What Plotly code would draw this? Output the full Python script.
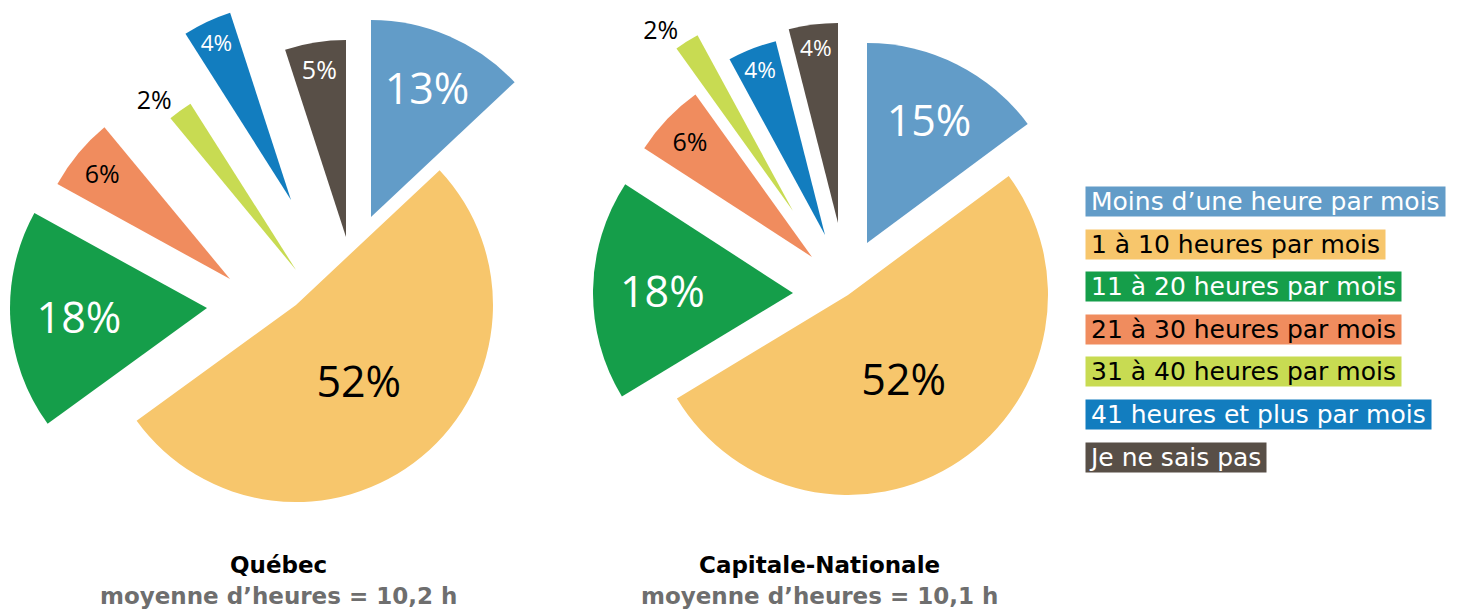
import plotly.graph_objects as go

# ---------------- data ----------------
categories = [
    "Moins d’une heure par mois",
    "1 à 10 heures par mois",
    "11 à 20 heures par mois",
    "21 à 30 heures par mois",
    "31 à 40 heures par mois",
    "41 heures et plus par mois",
    "Je ne sais pas",
]
quebec_values = [13, 52, 18, 6, 2, 4, 5]
capitale_values = [15, 52, 18, 6, 2, 4, 4]
region_names = ["Québec", "Capitale-Nationale"]
region_means = ["10,2", "10,1"]

# ---------------- style / layout ----------------
colors = ["#629CC8", "#F7C66C", "#159E4A", "#F08C5E", "#C8DB52", "#127DBF", "#584F47"]
label_colors = ["white", "black", "white", "black", "black", "white", "white"]
PCT_FONT = "Open Sans"
TXT_FONT = "DejaVu Sans"
W, H = 1474, 612

# apex (pixel) of each exploded slice, and slice radius, per region
quebec_apex = [(371, 217), (296, 305), (207, 308), (230, 279), (296, 270), (291, 200), (346, 237)]
capitale_apex = [(867, 243), (848, 295), (793, 293), (812, 257), (793, 211), (825, 235), (838, 223)]
radii = [197, 200]
title_x = [278, 819]

fig = go.Figure()

for values, apexes, r in [(quebec_values, quebec_apex, radii[0]),
                          (capitale_values, capitale_apex, radii[1])]:
    n = len(values)
    for i, (cx, cy) in enumerate(apexes):
        big = values[i] >= 10
        pos = "outside" if values[i] <= 2 else "inside"
        fig.add_trace(go.Pie(
            values=values,
            labels=categories,
            sort=False,
            direction="clockwise",
            rotation=0,
            marker=dict(colors=[colors[j] if j == i else "rgba(0,0,0,0)" for j in range(n)],
                        line=dict(width=0)),
            text=[f"{values[j]}%" if j == i else "" for j in range(n)],
            textinfo="text",
            textposition=[pos if j == i else "none" for j in range(n)],
            insidetextorientation="horizontal",
            textfont=dict(family=PCT_FONT, size=43 if big else 25, color=label_colors[i]),
            outsidetextfont=dict(family=PCT_FONT, size=25, color="black"),
            domain=dict(x=[(cx - r) / W, (cx + r) / W], y=[1 - (cy + r) / H, 1 - (cy - r) / H]),
            showlegend=False,
            hoverinfo="skip",
        ))

annotations = []
# legend as coloured text boxes
for k, cat in enumerate(categories):
    annotations.append(dict(
        x=1085 / W, y=1 - (201.5 + 42.6 * k) / H, xref="paper", yref="paper",
        xanchor="left", yanchor="middle", align="left", showarrow=False,
        text="\u2009" + cat + "\u2009", bgcolor=colors[k], borderpad=0,
        font=dict(family=TXT_FONT, size=25, color=label_colors[k]),
    ))

# region titles
for name, mean, x in zip(region_names, region_means, title_x):
    annotations.append(dict(
        x=x / W, y=1 - 565 / H, xref="paper", yref="paper", xanchor="center", yanchor="middle",
        showarrow=False, text=f"<b>{name}</b>", font=dict(family=TXT_FONT, size=23, color="black"),
    ))
    annotations.append(dict(
        x=x / W, y=1 - 596 / H, xref="paper", yref="paper", xanchor="center", yanchor="middle",
        showarrow=False, text=f"<b>moyenne d’heures = {mean} h</b>",
        font=dict(family=TXT_FONT, size=23, color="#6E6E6E"),
    ))

fig.update_layout(
    width=W, height=H,
    margin=dict(l=0, r=0, t=0, b=0),
    paper_bgcolor="white", plot_bgcolor="white",
    annotations=annotations,
)

fig.write_html("out.html", config={"displayModeBar": False},
               post_script="document.body.style.margin='0px';")
